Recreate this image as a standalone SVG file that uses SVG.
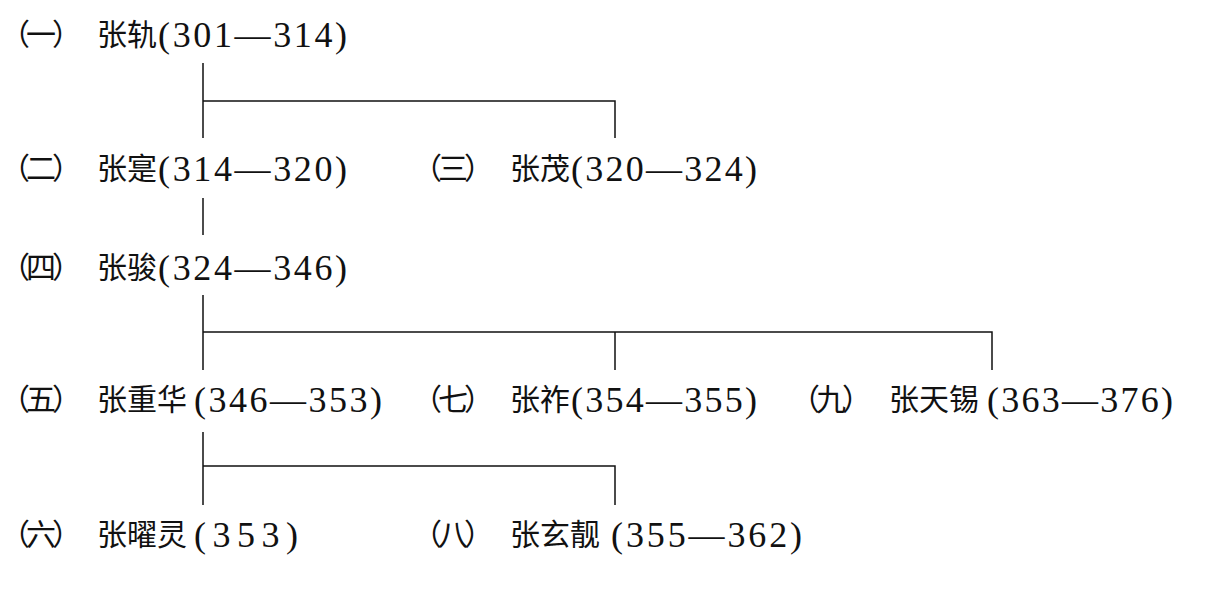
<svg xmlns="http://www.w3.org/2000/svg" width="1213" height="593" viewBox="0 0 1213 593">
<style>
.cn{font-family:"Noto Sans CJK SC","Noto Sans CJK TC",sans-serif;font-size:30px;fill:#111;}
.pf{font-family:"Noto Sans CJK SC","Noto Sans CJK TC",sans-serif;font-size:30px;fill:#111;letter-spacing:-4px;}
.yr{font-family:"Liberation Serif","Times New Roman",serif;font-size:36px;fill:#111;}
.ln{stroke:#111;stroke-width:1.5;fill:none;}
</style>
<rect width="1213" height="593" fill="#fff"/>
<g id="connectors">
<path class="ln" d="M203 63V138M203 101H615V138"/>
<path class="ln" d="M203 198V235"/>
<path class="ln" d="M203 295V370M203 332H992V370M615 332V370"/>
<path class="ln" d="M203 432V505M203 466H615V505"/>
</g>
<g id="n1">
<text class="pf" x="0" y="45">（一）</text>
<text class="cn" x="97" y="45">张轨</text>
<text class="yr" x="158" y="47" textLength="189" lengthAdjust="spacing">(301—314)</text>
</g>
<g id="n2">
<text class="pf" x="0" y="179">（二）</text>
<text class="cn" x="97" y="179">张寔</text>
<text class="yr" x="158" y="181" textLength="189" lengthAdjust="spacing">(314—320)</text>
</g>
<g id="n3">
<text class="pf" x="412" y="179">（三）</text>
<text class="cn" x="510" y="179">张茂</text>
<text class="yr" x="571" y="181" textLength="186" lengthAdjust="spacing">(320—324)</text>
</g>
<g id="n4">
<text class="pf" x="0" y="278">（四）</text>
<text class="cn" x="97" y="278">张骏</text>
<text class="yr" x="158" y="280" textLength="189" lengthAdjust="spacing">(324—346)</text>
</g>
<g id="n5">
<text class="pf" x="0" y="410">（五）</text>
<text class="cn" x="97" y="410">张重华</text>
<text class="yr" x="194" y="412" textLength="188" lengthAdjust="spacing">(346—353)</text>
</g>
<g id="n7">
<text class="pf" x="412" y="410">（七）</text>
<text class="cn" x="510" y="410">张祚</text>
<text class="yr" x="571" y="412" textLength="186" lengthAdjust="spacing">(354—355)</text>
</g>
<g id="n9">
<text class="pf" x="790" y="410">（九）</text>
<text class="cn" x="889" y="410">张天锡</text>
<text class="yr" x="987" y="412" textLength="186" lengthAdjust="spacing">(363—376)</text>
</g>
<g id="n6">
<text class="pf" x="0" y="545">（六）</text>
<text class="cn" x="97" y="545">张曜灵</text>
<text class="yr" x="194" y="547" textLength="104" lengthAdjust="spacing">(353)</text>
</g>
<g id="n8">
<text class="pf" x="412" y="545">（八）</text>
<text class="cn" x="510" y="545">张玄靓</text>
<text class="yr" x="611" y="547" textLength="191" lengthAdjust="spacing">(355—362)</text>
</g>
</svg>
